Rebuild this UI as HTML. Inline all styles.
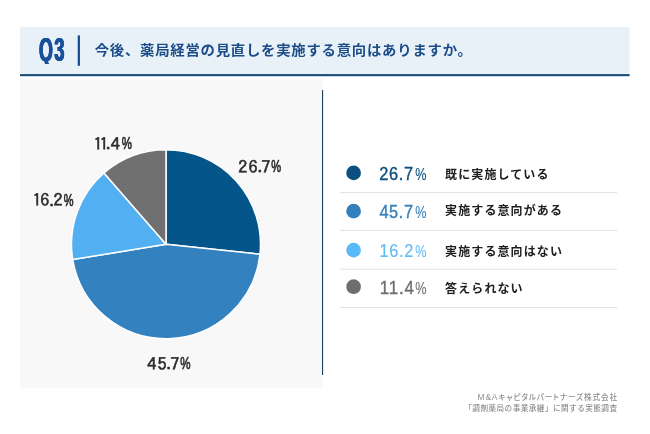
<!DOCTYPE html>
<html lang="ja">
<head>
<meta charset="utf-8">
<title>Q3</title>
<style>
html,body{margin:0;padding:0;background:#fff;}
body{position:relative;width:650px;height:434px;overflow:hidden;font-family:"Liberation Sans", "Noto Sans CJK JP", sans-serif;}
svg{display:block;}
text{font-family:"Liberation Sans", "Noto Sans CJK JP", sans-serif;}
.qw{position:absolute;left:30px;top:27px;width:45px;height:37.3px;overflow:hidden;}
.q{position:absolute;left:8.6px;top:0;height:47px;line-height:47px;font-weight:700;font-size:32.6px;color:#19509a;transform-origin:0 50%;transform:translateY(-0.6px) scaleX(0.548);letter-spacing:2.8px;text-shadow:1.1px 0 0 #19509a,-1.1px 0 0 #19509a,0.5px 0 0 #19509a,-0.5px 0 0 #19509a;white-space:nowrap;}
.title{font-weight:700;font-size:14.4px;letter-spacing:0.74px;fill:#1b4c88;}
.pl{font-family:IPAGothic,"Liberation Sans",sans-serif;font-size:17px;fill:#2b2b2b;stroke:#2b2b2b;stroke-width:0.5px;stroke-linejoin:round;}
.ln{font-size:17.6px;stroke-width:0;}
.ln.hv{stroke-width:0.35px;}
.ln.mv{stroke-width:0.2px;}
.pl .pp{font-family:"Liberation Sans",sans-serif;font-size:17px;stroke-width:0.7px;}
.pl .dot{font-size:15px;}
.pc{font-size:16.2px;stroke-width:0.1px;}
.ll{font-size:12px;font-weight:700;letter-spacing:1.1px;fill:#1e1e1e;}
.ft{font-size:7.6px;font-weight:500;letter-spacing:0.47px;fill:#8d8d8d;text-anchor:end;}
.ft1{font-feature-settings:"palt" 1;letter-spacing:0.88px;}
.ft1 .la{font-size:8.4px;}
</style>
</head>
<body>
<svg width="650" height="434" viewBox="0 0 650 434">
<rect width="650" height="434" fill="#fff"/>
<!-- header -->
<rect x="20" y="27.2" width="609.6" height="47" fill="#e8f1f8"/>
<rect x="20" y="74.1" width="609.6" height="2.1" fill="#164a78"/>
<rect x="77.7" y="35.4" width="2.3" height="30.4" fill="#1a4f93"/>
<text class="title" transform="translate(0 50.6) scale(1 0.925) translate(0 -50.6)" x="94.7" y="55.5">今後、薬局経営の見直しを実施する意向はありますか。</text>
<!-- left panel -->
<rect x="20" y="78.6" width="303" height="309.8" fill="#f8f8f8"/>
<rect x="322" y="90" width="1.1" height="285" fill="#183f5c"/>
<!-- pie -->
<path d="M166.00 244.20L166.00 149.70A94.5 94.5 0 0 1 259.96 254.27Z" fill="#03558a" stroke="#fff" stroke-width="1.5" stroke-linejoin="round"/>
<path d="M166.00 244.20L259.96 254.27A94.5 94.5 0 0 1 72.76 259.57Z" fill="#3382bf" stroke="#fff" stroke-width="1.5" stroke-linejoin="round"/>
<path d="M166.00 244.20L72.76 259.57A94.5 94.5 0 0 1 103.95 172.92Z" fill="#52aff2" stroke="#fff" stroke-width="1.5" stroke-linejoin="round"/>
<path d="M166.00 244.20L103.95 172.92A94.5 94.5 0 0 1 166.00 149.70Z" fill="#707070" stroke="#fff" stroke-width="1.5" stroke-linejoin="round"/>
<text class="pl" y="173.20"><tspan x="238.30" y="173.20" textLength="9.10" lengthAdjust="spacingAndGlyphs">2</tspan><tspan x="248.46" y="173.20" textLength="9.10" lengthAdjust="spacingAndGlyphs">6</tspan><tspan class="dot" x="257.42" y="172.30">.</tspan><tspan x="261.25" y="173.20" textLength="9.10" lengthAdjust="spacingAndGlyphs">7</tspan><tspan class="pp" x="271.36" y="172.40" textLength="9.87" lengthAdjust="spacingAndGlyphs">%</tspan></text>
<text class="pl" y="370.20"><tspan x="147.25" y="370.20" textLength="9.10" lengthAdjust="spacingAndGlyphs">4</tspan><tspan x="157.51" y="370.20" textLength="9.10" lengthAdjust="spacingAndGlyphs">5</tspan><tspan class="dot" x="166.27" y="369.30">.</tspan><tspan x="170.30" y="370.20" textLength="9.10" lengthAdjust="spacingAndGlyphs">7</tspan><tspan class="pp" x="180.34" y="369.40" textLength="10.30" lengthAdjust="spacingAndGlyphs">%</tspan></text>
<text class="pl" y="206.45"><tspan x="32.66" y="206.45" textLength="8.50" lengthAdjust="spacingAndGlyphs">1</tspan><tspan x="40.16" y="206.45" textLength="9.10" lengthAdjust="spacingAndGlyphs">6</tspan><tspan class="dot" x="49.27" y="205.55">.</tspan><tspan x="53.45" y="206.45" textLength="9.10" lengthAdjust="spacingAndGlyphs">2</tspan><tspan class="pp" x="63.77" y="205.65" textLength="9.76" lengthAdjust="spacingAndGlyphs">%</tspan></text>
<text class="pl" y="150.20"><tspan x="93.77" y="150.20" textLength="8.50" lengthAdjust="spacingAndGlyphs">1</tspan><tspan x="99.86" y="150.20" textLength="8.50" lengthAdjust="spacingAndGlyphs">1</tspan><tspan class="dot" x="105.77" y="149.30">.</tspan><tspan x="110.70" y="150.20" textLength="9.10" lengthAdjust="spacingAndGlyphs">4</tspan><tspan class="pp" x="121.70" y="149.40" textLength="10.25" lengthAdjust="spacingAndGlyphs">%</tspan></text>
<!-- legend -->
<circle cx="353.6" cy="172.9" r="7.35" fill="#0b4f80"/>
<text class="ln hv" x="379.28" y="179.50" fill="#0b4f80" stroke="#0b4f80"><tspan letter-spacing="0.68" textLength="34.39" lengthAdjust="spacingAndGlyphs">26.7</tspan><tspan class="pc" x="415.16" y="179.60" textLength="11.28" lengthAdjust="spacingAndGlyphs">%</tspan></text>
<text class="ll" x="445.1" y="179.35">既に実施している</text>
<rect x="340" y="192.10" width="277.2" height="1" fill="#e2e2e2"/>
<circle cx="353.6" cy="211.15" r="7.35" fill="#3380bd"/>
<text class="ln hv" x="379.44" y="217.75" fill="#3380bd" stroke="#3380bd"><tspan letter-spacing="0.62" textLength="34.17" lengthAdjust="spacingAndGlyphs">45.7</tspan><tspan class="pc" x="415.16" y="217.85" textLength="11.28" lengthAdjust="spacingAndGlyphs">%</tspan></text>
<text class="ll" x="445.1" y="215.3">実施する意向がある</text>
<rect x="340" y="229.90" width="277.2" height="1" fill="#e2e2e2"/>
<circle cx="353.6" cy="250.1" r="7.35" fill="#5ab9f8"/>
<text class="ln mv" x="379.57" y="256.60" fill="#62bdf5" stroke="#62bdf5"><tspan letter-spacing="0.72" textLength="34.53" lengthAdjust="spacingAndGlyphs">16.2</tspan><tspan class="pc" x="415.16" y="256.70" textLength="11.28" lengthAdjust="spacingAndGlyphs">%</tspan></text>
<text class="ll" x="445.1" y="256.4">実施する意向はない</text>
<rect x="340" y="268.70" width="277.2" height="1" fill="#e2e2e2"/>
<circle cx="353.6" cy="286.7" r="7.35" fill="#6e6e6e"/>
<text class="ln hv" x="379.77" y="293.50" fill="#6e6e6e" stroke="#6e6e6e"><tspan letter-spacing="0.85" textLength="35.03" lengthAdjust="spacingAndGlyphs">11.4</tspan><tspan class="pc" x="415.16" y="293.60" textLength="11.28" lengthAdjust="spacingAndGlyphs">%</tspan></text>
<text class="ll" x="445.1" y="292.9">答えられない</text>
<rect x="340" y="307.00" width="277.2" height="1" fill="#e2e2e2"/>
<!-- footer -->
<text class="ft ft1" x="617.9" y="400.4"><tspan class="la">M&amp;A</tspan>キャピタルパートナーズ株式会社</text>
<text class="ft" x="617.5" y="410.6">「調剤薬局の事業承継」に関する実態調査</text>
</svg>
<div class="qw"><div class="q">Q3</div></div>
</body>
</html>
